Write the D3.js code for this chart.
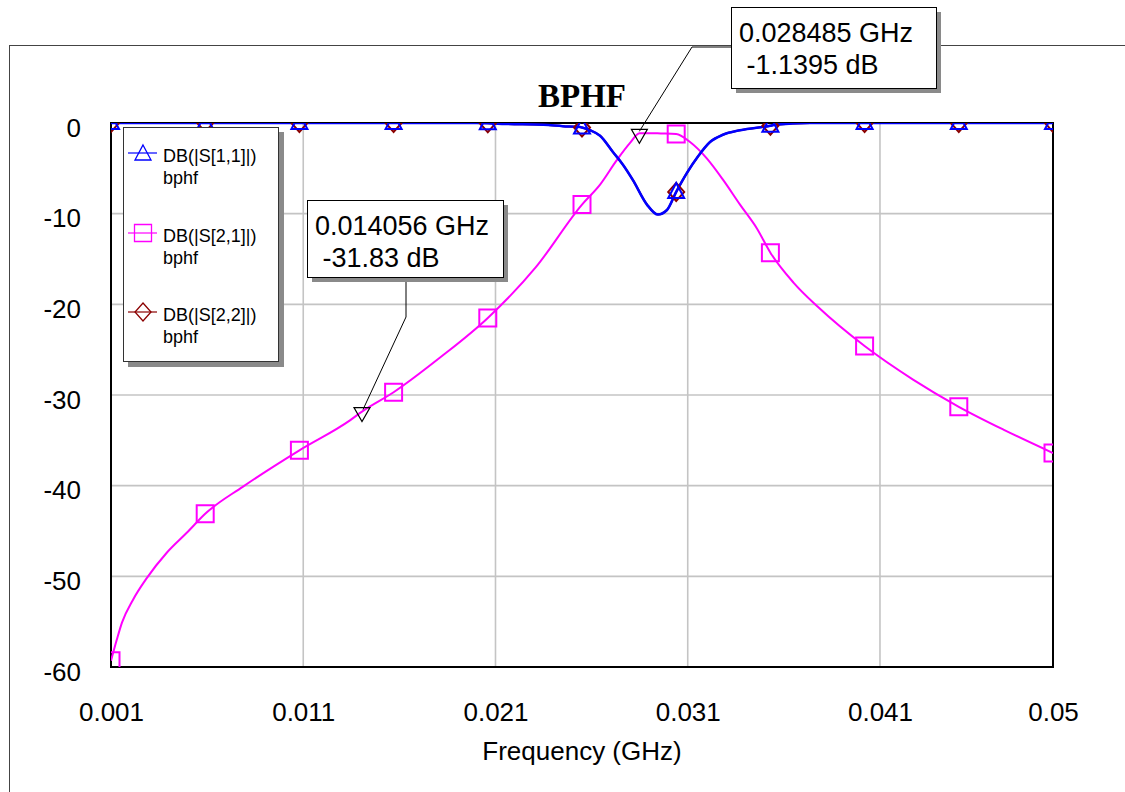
<!DOCTYPE html>
<html>
<head>
<meta charset="utf-8">
<script src="https://cdn.jsdelivr.net/npm/d3@7"></script>
<style>
  html, body { margin: 0; padding: 0; background: #fff; }
  svg { display: block; font-family: "Liberation Sans", Arial, sans-serif; }
</style>
</head>
<body>
<svg id="chart" width="1125" height="792"></svg>
<script>
// Sweep data: frequency (GHz) and magnitude (dB)
const freqS21 = [0.0010, 0.0013, 0.00157, 0.00214, 0.00286, 0.0039, 0.00494, 0.0059, 0.00787,
  0.0108, 0.01343, 0.014056, 0.0157, 0.0181, 0.0206, 0.0231, 0.0255, 0.02644, 0.02731, 0.0280,
  0.028485, 0.0290, 0.0296, 0.0304, 0.03112, 0.03199, 0.03285, 0.03372, 0.03459, 0.0353,
  0.0365, 0.03778, 0.0402, 0.04272, 0.0451, 0.0475, 0.0500];
const dbS21 = [-59.3, -57.0, -55.1, -52.6, -50.2, -47.4, -45.2, -43.1, -40.1,
  -36.1, -32.8, -31.83, -29.7, -25.9, -21.5, -15.9, -9.0, -6.8, -4.1, -2.2,
  -1.14, -1.12, -1.15, -1.2, -2.1, -3.9, -6.3, -9.0, -11.6, -14.3,
  -17.6, -20.3, -24.6, -28.3, -31.3, -33.9, -36.4];

const freqS11 = [0.0010, 0.0059, 0.0108, 0.0157, 0.0200, 0.0206, 0.0215, 0.0235, 0.0245, 0.0254,
  0.0255, 0.02592, 0.02644, 0.02711, 0.02763, 0.02815, 0.02888, 0.02945, 0.02992, 0.0304,
  0.03096, 0.03153, 0.03216, 0.03283, 0.03372, 0.0353, 0.03554, 0.03736, 0.0402, 0.0451, 0.0500];
const dbS11 = [0, 0, 0, 0, 0, -0.02, -0.1, -0.2, -0.35, -0.45,
  -0.5, -0.8, -1.4, -3.2, -4.6, -6.3, -9.0, -10.1, -9.6, -7.6,
  -5.5, -3.7, -2.1, -1.3, -0.8, -0.3, -0.2, 0, 0, 0, 0];

// Symmetric two-port: output match follows the input match
const freqS22 = freqS11.slice();
const dbS22 = dbS11.slice();

const markerFreqs = [0.0010, 0.0059, 0.0108, 0.0157, 0.0206, 0.0255, 0.0304, 0.0353, 0.0402, 0.0451, 0.0500];

const freqTicks = [0.001, 0.011, 0.021, 0.031, 0.041, 0.05];
const dbTicks = [0, -10, -20, -30, -40, -50, -60];

const seriesNames = ["DB(|S[1,1]|)", "DB(|S[2,1]|)", "DB(|S[2,2]|)"];
const seriesSource = "bphf";
const chartTitle = "BPHF";
const xTitle = "Frequency (GHz)";

// Readout markers: frequency, dB, label lines
const readouts = [
  { f: 0.028485, db: -1.1395, lines: ["0.028485 GHz", " -1.1395 dB"] },
  { f: 0.014056, db: -31.83, lines: ["0.014056 GHz", " -31.83 dB"] }
];

const svg = d3.select("#chart");
const plot = { left: 111, right: 1053, top: 123, bottom: 667 };

const x = d3.scaleLinear().domain([0.001, 0.05]).range([plot.left, plot.right]);
const y = d3.scaleLinear().domain([-60, 0]).range([plot.bottom, plot.top]);

// Outer frame
svg.append("rect").attr("x", 9.5).attr("y", 45.5).attr("width", 1300).attr("height", 900)
  .attr("fill", "none").attr("stroke", "#444").attr("stroke-width", 1);

// Grid
const grid = svg.append("g");
grid.selectAll("line.vx").data(freqTicks.slice(1, -1)).join("line")
  .attr("x1", d => x(d)).attr("x2", d => x(d)).attr("y1", plot.top).attr("y2", plot.bottom)
  .attr("stroke", "#c4c4c4").attr("stroke-width", 1.6);
grid.selectAll("line.hy").data(dbTicks.slice(1, -1)).join("line")
  .attr("y1", d => y(d)).attr("y2", d => y(d)).attr("x1", plot.left).attr("x2", plot.right)
  .attr("stroke", "#c4c4c4").attr("stroke-width", 1.6);

// Plot frame
svg.append("rect").attr("x", plot.left).attr("y", plot.top)
  .attr("width", plot.right - plot.left).attr("height", plot.bottom - plot.top)
  .attr("fill", "none").attr("stroke", "#000").attr("stroke-width", 2);

// Axes (labels only)
const xAxis = d3.axisBottom(x).tickValues(freqTicks).tickFormat(d3.format("")).tickSize(0).tickPadding(0);
const gx = svg.append("g").attr("transform", `translate(0,${plot.bottom})`).call(xAxis);
gx.select(".domain").remove();
gx.selectAll("text").attr("font-size", 26).attr("fill", "#000")
  .attr("font-family", "Liberation Sans, Arial, sans-serif").attr("dy", null).attr("y", 54);

const yAxis = d3.axisLeft(y).tickValues(dbTicks).tickFormat(d3.format("d")).tickSize(0).tickPadding(0);
const gy = svg.append("g").attr("transform", `translate(${plot.left},0)`).call(yAxis);
gy.select(".domain").remove();
gy.selectAll("text").attr("font-size", 26).attr("fill", "#000")
  .attr("font-family", "Liberation Sans, Arial, sans-serif").attr("x", -30).attr("dy", null).attr("y", 13);
gy.selectAll("text").text(d => d === 0 ? "0" : "-" + Math.abs(d));

// Clipping to the plot region
svg.append("defs").append("clipPath").attr("id", "plotClip")
  .append("rect").attr("x", plot.left).attr("y", plot.top)
  .attr("width", plot.right - plot.left).attr("height", plot.bottom - plot.top);
const area = svg.append("g").attr("clip-path", "url(#plotClip)");

function pairs(fs, vs) { return fs.map((f, i) => [f, vs[i]]); }
function valueAt(fs, vs, f) {
  const i = d3.bisectLeft(fs, f);
  if (i <= 0) return vs[0];
  if (i >= fs.length) return vs[vs.length - 1];
  if (fs[i] === f) return vs[i];
  const t = (f - fs[i - 1]) / (fs[i] - fs[i - 1]);
  return vs[i - 1] + t * (vs[i] - vs[i - 1]);
}

const line = d3.line().x(d => x(d[0])).y(d => y(d[1])).curve(d3.curveMonotoneX);

const series = [
  { name: seriesNames[2], f: freqS22, v: dbS22, color: "#8b0000", shape: "diamond", width: 2 },
  { name: seriesNames[1], f: freqS21, v: dbS21, color: "#ff00ff", shape: "square", width: 2 },
  { name: seriesNames[0], f: freqS11, v: dbS11, color: "#0000ff", shape: "triangle", width: 2.6 }
];

function markerPath(shape, cx, cy) {
  if (shape === "triangle") return `M${cx},${cy - 9}L${cx + 8},${cy + 6}L${cx - 8},${cy + 6}Z`;
  if (shape === "square") return `M${cx - 8.5},${cy - 8.5}h17v17h-17Z`;
  if (shape === "diamond") return `M${cx},${cy - 9}L${cx + 8},${cy}L${cx},${cy + 9}L${cx - 8},${cy}Z`;
  if (shape === "down") return `M${cx - 8},${cy - 7}L${cx + 8},${cy - 7}L${cx},${cy + 7}Z`;
}

series.forEach(s => {
  area.append("path").datum(pairs(s.f, s.v)).attr("d", line)
    .attr("fill", "none").attr("stroke", s.color).attr("stroke-width", s.width)
    .attr("stroke-linejoin", "round");
});
series.forEach(s => {
  area.selectAll(null).data(markerFreqs).join("path")
    .attr("d", f => markerPath(s.shape, x(f), y(valueAt(s.f, s.v, f))))
    .attr("fill", "none").attr("stroke", s.color).attr("stroke-width", 2);
});

// Title
svg.append("text").attr("x", 582).attr("y", 107).attr("text-anchor", "middle")
  .style("font-family", "'Liberation Serif', 'Times New Roman', serif").attr("font-weight", "bold")
  .attr("font-size", 33).text(chartTitle);

// Readout markers (triangles pointing down)
readouts.forEach(r => {
  svg.append("path").attr("d", markerPath("down", x(r.f), y(r.db) + 3))
    .attr("fill", "none").attr("stroke", "#000").attr("stroke-width", 1.2);
});

// Readout boxes with leaders
function readoutBox(r, bx, by, bw, bh, leader) {
  svg.append("path").attr("d", d3.line()(leader(x(r.f), y(r.db))))
    .attr("fill", "none").attr("stroke", "#000").attr("stroke-width", 1);
  svg.append("rect").attr("x", bx + 5).attr("y", by + 5).attr("width", bw).attr("height", bh).attr("fill", "#8a8a8a");
  svg.append("rect").attr("x", bx + 0.5).attr("y", by + 0.5).attr("width", bw).attr("height", bh)
    .attr("fill", "#fff").attr("stroke", "#000").attr("stroke-width", 1);
  r.lines.forEach((t, i) => {
    svg.append("text").attr("x", bx + 8).attr("y", by + 35 + i * 32)
      .attr("font-size", 27).style("white-space", "pre").text(t);
  });
}
readoutBox(readouts[0], 731, 7, 205, 81, (px, py) => [[731, 47], [692, 47], [px, py - 2]]);
readoutBox(readouts[1], 307, 200, 196, 77, (px, py) => [[406, 277], [406, 317], [px + 1, py - 2]]);

// Legend
const lg = svg.append("g");
lg.append("rect").attr("x", 128).attr("y", 132).attr("width", 156).attr("height", 235).attr("fill", "#8a8a8a");
lg.append("rect").attr("x", 123.5).attr("y", 127.5).attr("width", 155).attr("height", 234)
  .attr("fill", "#fff").attr("stroke", "#333").attr("stroke-width", 1);
const legendOrder = [series[2], series[1], series[0]];
const legendY = [153, 233, 312];
legendOrder.forEach((s, i) => {
  const cy = legendY[i];
  lg.append("line").attr("x1", 128).attr("x2", 157).attr("y1", cy).attr("y2", cy)
    .attr("stroke", s.color).attr("stroke-width", 1.2);
  lg.append("path").attr("d", markerPath(s.shape, 143, cy + (s.shape === "triangle" ? 1 : 0)))
    .attr("fill", "none").attr("stroke", s.color).attr("stroke-width", 1.3);
  lg.append("text").attr("x", 163).attr("y", cy + 8.5).attr("font-size", 18).text(s.name);
  lg.append("text").attr("x", 163).attr("y", cy + 31).attr("font-size", 18).text(seriesSource);
});

// X axis title
svg.append("text").attr("x", 582).attr("y", 760).attr("text-anchor", "middle")
  .attr("font-size", 26).text(xTitle);
</script>
</body>
</html>
